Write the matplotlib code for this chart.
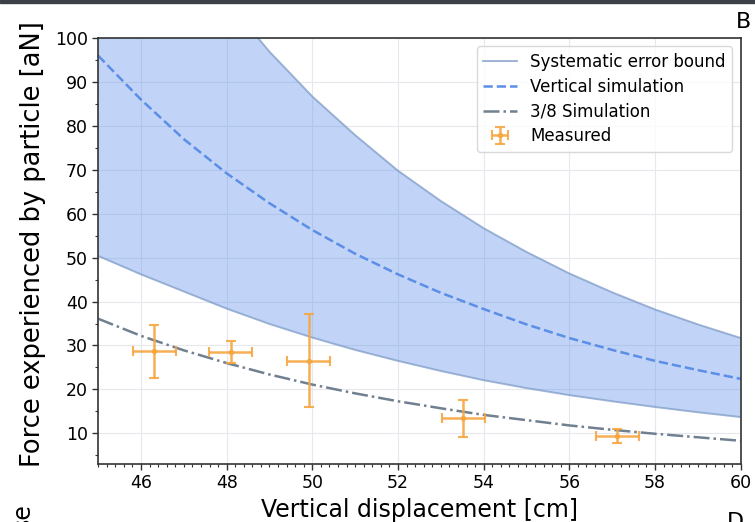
import matplotlib
matplotlib.use('Agg')
import matplotlib.pyplot as plt
import numpy as np
from matplotlib.ticker import MultipleLocator

# odleglosc [cm] dla krzywych
x_sim = [45, 46, 47, 48, 49, 50, 51, 52, 53, 54, 55, 56, 57, 58, 59, 60]

# gorna i dolna granica bledu systematycznego [aN]
bound_upper = [155, 137, 122, 108.6, 96.9, 86.7, 77.9, 69.8, 62.9, 56.7, 51.3, 46.4, 42.1, 38.2, 34.8, 31.7]
bound_lower = [50.4, 46.2, 42.3, 38.4, 34.9, 31.8, 29.0, 26.5, 24.2, 22.1, 20.3, 18.7, 17.3, 16.0, 14.8, 13.7]

# symulacje [aN]
vertical_sim = [96.0, 86.0, 77.0, 69.2, 62.4, 56.3, 50.9, 46.2, 42.0, 38.3, 34.8, 31.7, 29.0, 26.5, 24.4, 22.4]
sim_38 = [36.1, 32.2, 28.9, 26.0, 23.4, 21.1, 19.1, 17.3, 15.7, 14.2, 13.0, 11.8, 10.8, 9.9, 9.1, 8.3]

# pomiary
meas_x = [46.31, 48.09, 49.92, 53.52, 57.12]
meas_y = [28.7, 28.6, 26.5, 13.4, 9.4]
meas_xerr = [0.5, 0.5, 0.5, 0.5, 0.5]
meas_yerr = [6.0, 2.5, 10.6, 4.2, 1.5]

fig = plt.figure(figsize=(7.55, 5.22), dpi=100)
ax = fig.add_axes([0.130, 0.111, 0.851, 0.816])

ax.fill_between(x_sim, bound_lower, bound_upper, color='cornflowerblue', alpha=0.4, linewidth=0)
ax.plot(x_sim, bound_upper, color='#7f9cc8', alpha=0.75, linewidth=1.4, label='Systematic error bound')
ax.plot(x_sim, bound_lower, color='#7f9cc8', alpha=0.75, linewidth=1.4)
ax.plot(x_sim, vertical_sim, color='#5b8ee6', linestyle='--', linewidth=1.8, label='Vertical simulation')
ax.plot(x_sim, sim_38, color='slategray', linestyle='-.', linewidth=1.8, label='3/8 Simulation')
ax.errorbar(meas_x, meas_y, xerr=meas_xerr, yerr=meas_yerr, fmt='o', markersize=3,
            color='#f5a742', alpha=0.9, elinewidth=1.8, capsize=3.5, capthick=1.5, label='Measured')

ax.set_xlim(45, 60)
ax.set_ylim(3, 100)
ax.xaxis.set_major_locator(MultipleLocator(2))
ax.xaxis.set_minor_locator(MultipleLocator(0.2))
ax.yaxis.set_major_locator(MultipleLocator(10))
ax.yaxis.set_minor_locator(MultipleLocator(5))
ax.grid(True, which='major', color='#e6e8ee', linewidth=0.8)
ax.set_axisbelow(True)
ax.tick_params(axis='both', which='major', labelsize=12.5, length=4, width=1, color='#333333')
ax.tick_params(axis='both', which='minor', length=2.5, width=0.8, color='#333333')
for s in ax.spines.values():
    s.set_color('#333333')
    s.set_linewidth(1.2)

ax.set_xlabel('Vertical displacement [cm]', fontsize=17, labelpad=4)
ax.set_ylabel('Force experienced by particle [aN]', fontsize=18.5)
ax.yaxis.set_label_coords(-0.081, 0.516)

leg = ax.legend(loc='upper right', fontsize=12, frameon=True, fancybox=True,
                borderaxespad=0.5, handlelength=2.0, labelspacing=0.4)
leg.get_frame().set_edgecolor('#d0d0d0')

# fragmenty sasiednich paneli
fig.patches.append(plt.Rectangle((0, 0.994), 1, 0.006, transform=fig.transFigure,
                                 color='#3c4147', zorder=10))
fig.text(0.995, 0.958, 'B', fontsize=16, ha='right', va='center')
fig.text(0.985, 0.0, 'D', fontsize=16, ha='right', va='center')
fig.text(0.03, 0.01, 'se', fontsize=17, rotation=90, ha='center', va='center')

plt.savefig('out.png', dpi=100)
